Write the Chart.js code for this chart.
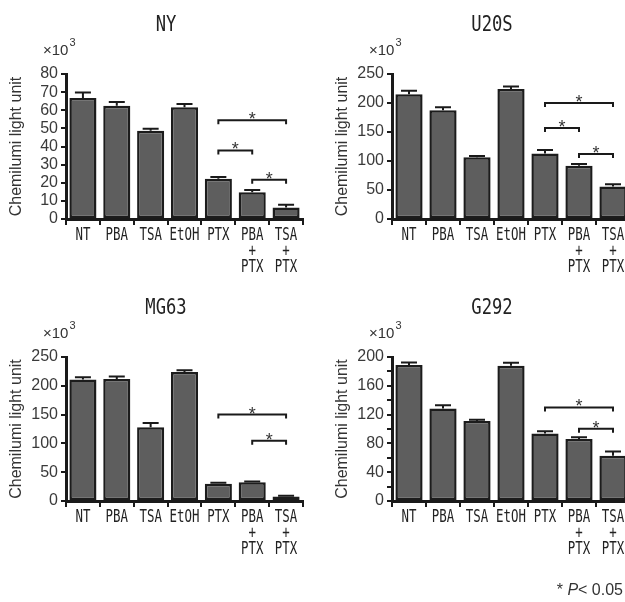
<!DOCTYPE html>
<html lang="en">
<head>
<meta charset="UTF-8">
<title>Chemilumi light unit</title>
<style>
  body { margin: 0; width: 625px; height: 602px; overflow: hidden; background: #fff; position: relative; font-family: 'Liberation Sans', Arial, sans-serif; }
  canvas { position: absolute; }
  #nota { position: absolute; right: 2px; top: 581px; font-size: 16px; color: #333; }
</style>
</head>
<body>
<canvas id="cNY" width="312" height="290" style="left:0;top:0"></canvas>
<canvas id="cU20S" width="320" height="290" style="left:312px;top:0"></canvas>
<canvas id="cMG63" width="312" height="312" style="left:0;top:290px"></canvas>
<canvas id="cG292" width="320" height="312" style="left:312px;top:290px"></canvas>
<div id="nota">* <i>P</i>&lt; 0.05</div>

<script src="https://cdn.jsdelivr.net/npm/chart.js"></script>
<script>
  const categorias = ['NT', 'PBA', 'TSA', 'EtOH', 'PTX', ['PBA', '+', 'PTX'], ['TSA', '+', 'PTX']];

  const valoresNY = [66.8, 62.5, 48.7, 61.6, 22.2, 14.7, 6.4];
  const errosNY = [3, 2, 1.1, 1.8, 1, 1.3, 1.5];
  const chavesNY = [[4, 6, 54.5], [4, 5, 37.8], [5, 6, 21.7]];

  const valoresU20S = [215, 187.5, 106.5, 224, 113, 92, 56];
  const errosU20S = [6, 5, 2, 4.5, 6, 3, 4];
  const chavesU20S = [[4, 6, 200], [4, 5, 157], [5, 6, 112]];

  const valoresMG63 = [211, 212, 128, 224, 30, 32.4, 8];
  const errosMG63 = [4, 4, 7.5, 3, 1.7, 1.5, 1];
  const chavesMG63 = [[4, 6, 150], [5, 6, 104.5]];

  const valoresG292 = [189, 128.5, 111, 188, 93.8, 86, 62.8];
  const errosG292 = [3.5, 4.5, 2, 4, 3, 2.5, 6];
  const chavesG292 = [[4, 6, 130], [5, 6, 100.5]];

  // texto estreito (fonte "gothic" meia-largura do original)
  function textoEstreito(ctx, t, px, py, escala) {
    ctx.save();
    ctx.translate(px, py);
    ctx.scale(escala, 1);
    ctx.fillText(t, 0, 0);
    ctx.restore();
  }

  // plugin: barras de erro, chaves de significancia, titulo e textos dos eixos
  const deco = {
    id: 'deco',
    afterDatasetsDraw(chart, args, opts) {
      const ctx = chart.ctx;
      const a = chart.chartArea;
      const x = chart.scales.x, y = chart.scales.y;
      const vals = chart.data.datasets[0].data;
      ctx.save();
      ctx.strokeStyle = '#1a1a1a';
      ctx.lineWidth = 2;
      opts.erros.forEach((e, i) => {
        const cx = x.getPixelForValue(i);
        const y0 = y.getPixelForValue(vals[i]);
        const y1 = y.getPixelForValue(vals[i] + e);
        ctx.beginPath();
        ctx.moveTo(cx, y0); ctx.lineTo(cx, y1);
        ctx.moveTo(cx - 8, y1); ctx.lineTo(cx + 8, y1);
        ctx.stroke();
      });

      ctx.fillStyle = '#333';
      ctx.font = "18px 'Liberation Sans'";
      ctx.textAlign = 'center';
      ctx.textBaseline = 'alphabetic';
      opts.chaves.forEach(([i, j, v]) => {
        const x1 = x.getPixelForValue(i), x2 = x.getPixelForValue(j);
        const yy = y.getPixelForValue(v);
        ctx.beginPath();
        ctx.moveTo(x1, yy + 4); ctx.lineTo(x1, yy); ctx.lineTo(x2, yy); ctx.lineTo(x2, yy + 4);
        ctx.stroke();
        ctx.fillText('*', (x1 + x2) / 2, yy + 5);
      });

      // rotulos do eixo x
      ctx.fillStyle = '#222';
      ctx.font = "17px 'DejaVu Sans Mono'";
      ctx.textBaseline = 'middle';
      categorias.forEach((c, i) => {
        const linhas = Array.isArray(c) ? c : [c];
        const cx = x.getPixelForValue(i);
        linhas.forEach((t, k) => textoEstreito(ctx, t, cx, a.bottom + 17 + k * 16, 0.73));
      });

      // titulo
      ctx.font = "22px 'DejaVu Sans Mono'";
      textoEstreito(ctx, opts.titulo, a.left + 100, a.top - 49, 0.78);

      // x10^3
      ctx.fillStyle = '#333';
      ctx.textAlign = 'left';
      ctx.textBaseline = 'alphabetic';
      ctx.font = "15px 'Liberation Sans'";
      ctx.fillText('\u00d710', a.left - 23, a.top - 19);
      const w = ctx.measureText('\u00d710').width;
      ctx.font = "11px 'Liberation Sans'";
      ctx.fillText('3', a.left - 23 + w + 1, a.top - 28);

      // titulo do eixo y
      ctx.font = "16px 'Liberation Sans'";
      ctx.textAlign = 'center';
      ctx.textBaseline = 'middle';
      ctx.translate(a.left - 49, (a.top + a.bottom) / 2);
      ctx.rotate(-Math.PI / 2);
      ctx.fillText('Chemilumi light unit', 0, 0);
      ctx.restore();
    }
  };

  function criarGrafico(id, titulo, valores, erros, chaves, maximo, passo, rotulo, esq, topo, base, dir) {
    const canvas = document.getElementById(id);
    const H = canvas.height;
    return new Chart(canvas, {
      type: 'bar',
      data: {
        labels: categorias,
        datasets: [{
          data: valores,
          backgroundColor: '#5e5e5e',
          borderColor: '#1c1c1c',
          borderWidth: 2.5,
          borderSkipped: false,
          categoryPercentage: 1,
          barPercentage: 0.8
        }]
      },
      options: {
        responsive: false,
        animation: false,
        layout: { padding: { top: topo, right: canvas.width - dir, left: 0, bottom: 0 } },
        plugins: {
          legend: { display: false },
          tooltip: { enabled: false },
          deco: { titulo: titulo, erros: erros, chaves: chaves }
        },
        scales: {
          x: {
            grid: { drawOnChartArea: false, color: '#1a1a1a', lineWidth: 2, tickLength: 6 },
            border: { color: '#1a1a1a', width: 3 },
            ticks: {
              color: 'rgba(0,0,0,0)',
              padding: 2,
              maxRotation: 0,
              autoSkip: false,
              font: { size: 15 }
            },
            afterFit: s => { s.height = H - base; }
          },
          y: {
            min: 0,
            max: maximo,
            grid: { drawOnChartArea: false, color: '#1a1a1a', lineWidth: 2, tickLength: 5 },
            border: { color: '#1a1a1a', width: 3 },
            ticks: {
              stepSize: passo,
              autoSkip: false,
              color: '#3a3a3a',
              padding: 3,
              font: { family: "'Liberation Sans'", size: 16 },
              callback: v => (v % rotulo === 0 ? v : '')
            },
            afterFit: s => { s.width = esq; }
          }
        }
      },
      plugins: [deco]
    });
  }

  criarGrafico('cNY', 'NY', valoresNY, errosNY, chavesNY, 80, 10, 10, 66, 74, 219, 303);
  criarGrafico('cU20S', 'U20S', valoresU20S, errosU20S, chavesU20S, 250, 50, 50, 80, 74, 219, 318);
  criarGrafico('cMG63', 'MG63', valoresMG63, errosMG63, chavesMG63, 250, 50, 50, 66, 67, 211, 303);
  criarGrafico('cG292', 'G292', valoresG292, errosG292, chavesG292, 200, 20, 40, 80, 67, 211, 318);
</script>
</body>
</html>
